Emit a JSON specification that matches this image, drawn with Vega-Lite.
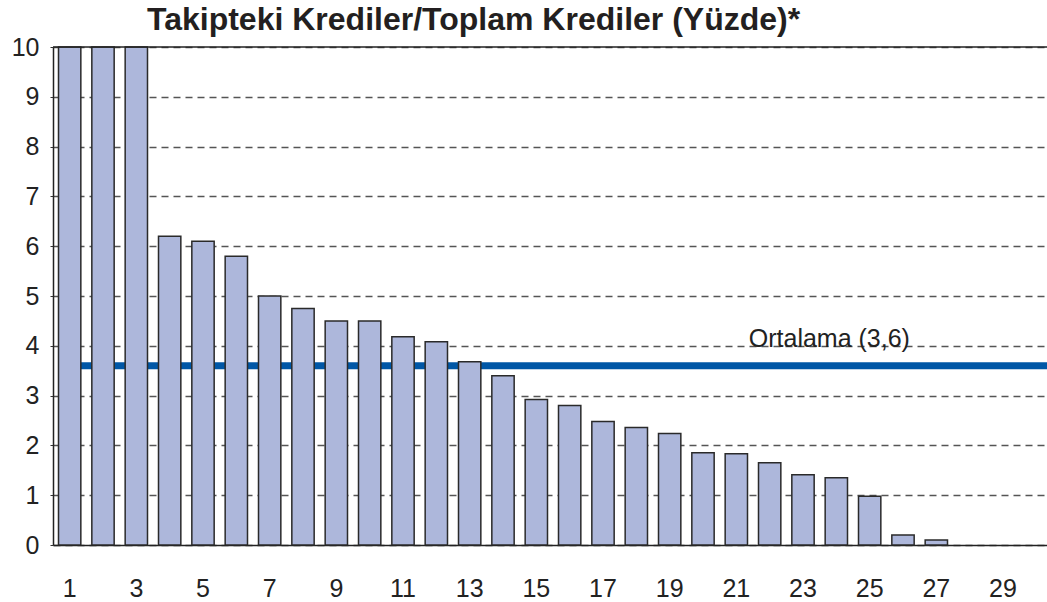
{
  "$schema": "https://vega.github.io/schema/vega-lite/v6.json",
  "width": 994,
  "height": 498,
  "autosize": {"type": "none"},
  "padding": {"left": 53, "top": 47, "right": 0, "bottom": 57},
  "background": "white",
  "config": {"view": {"stroke": null}, "font": "Liberation Sans"},
  "title": {
    "text": "Takipteki Krediler/Toplam Krediler (Yüzde)*",
    "font": "Liberation Sans",
    "fontSize": 32,
    "fontWeight": "bold",
    "color": "#231f20",
    "anchor": "start",
    "frame": "group",
    "dx": 94,
    "offset": -27,
    "baseline": "alphabetic"
  },
  "datasets": {
    "bars": [
      {"no": "1", "value": 10},
      {"no": "2", "value": 10},
      {"no": "3", "value": 10},
      {"no": "4", "value": 6.2},
      {"no": "5", "value": 6.1},
      {"no": "6", "value": 5.8},
      {"no": "7", "value": 5.0},
      {"no": "8", "value": 4.75},
      {"no": "9", "value": 4.5},
      {"no": "10", "value": 4.5},
      {"no": "11", "value": 4.18},
      {"no": "12", "value": 4.08},
      {"no": "13", "value": 3.68},
      {"no": "14", "value": 3.4},
      {"no": "15", "value": 2.92},
      {"no": "16", "value": 2.8},
      {"no": "17", "value": 2.48},
      {"no": "18", "value": 2.36},
      {"no": "19", "value": 2.24},
      {"no": "20", "value": 1.85},
      {"no": "21", "value": 1.83},
      {"no": "22", "value": 1.65},
      {"no": "23", "value": 1.41},
      {"no": "24", "value": 1.35},
      {"no": "25", "value": 0.98},
      {"no": "26", "value": 0.2},
      {"no": "27", "value": 0.1}
    ],
    "avg": [
      {"start": "1", "avg": 3.6, "label": "Ortalama (3,6)", "pos": "24"}
    ]
  },
  "layer": [
    {
      "data": {"name": "avg"},
      "mark": {"type": "rule", "stroke": "#0057a6", "strokeWidth": 7},
      "encoding": {
        "x": {
          "field": "start",
          "type": "ordinal",
          "scale": {
            "domain": ["1","2","3","4","5","6","7","8","9","10","11","12","13","14","15","16","17","18","19","20","21","22","23","24","25","26","27","28","29","30"],
            "range": [0, 1000],
            "paddingInner": 0.33,
            "paddingOuter": 0.165
          },
          "axis": {
            "title": null,
            "values": ["1","3","5","7","9","11","13","15","17","19","21","23","25","27","29"],
            "labelAngle": 0,
            "ticks": false,
            "labelPadding": 31,
            "labelFontSize": 25,
            "labelFont": "Liberation Sans",
            "labelColor": "#222",
            "labelBaseline": "top",
            "domainColor": "#222",
            "domainWidth": 1.5,
            "grid": false
          }
        },
        "x2": {"value": "width"},
        "y": {
          "field": "avg",
          "type": "quantitative",
          "scale": {"domain": [0, 10], "nice": false},
          "axis": {
            "title": null,
            "values": [0,1,2,3,4,5,6,7,8,9,10],
            "grid": true,
            "gridColor": "#555",
            "gridDash": [7, 5],
            "gridWidth": 1.4,
            "tickSize": 3,
            "tickColor": "#333",
            "labelPadding": 11,
            "labelFontSize": 25,
            "labelFont": "Liberation Sans",
            "labelColor": "#222",
            "labelFlush": false,
            "labelOverlap": false,
            "domainColor": "#222",
            "domainWidth": 1.5
          }
        }
      }
    },
    {
      "data": {"name": "bars"},
      "mark": {"type": "bar", "fill": "#adb7db", "stroke": "#2a2a2a", "strokeWidth": 1.5},
      "encoding": {
        "x": {"field": "no", "type": "ordinal"},
        "y": {"field": "value", "type": "quantitative"}
      }
    },
    {
      "data": {"values": [{}]},
      "mark": {"type": "rule", "stroke": "#222", "strokeWidth": 1.5},
      "encoding": {"y": {"datum": 10}}
    },
    {
      "data": {"name": "avg"},
      "mark": {"type": "text", "fontSize": 25, "font": "Liberation Sans", "color": "#222", "align": "center", "baseline": "alphabetic", "dx": -7, "dy": -19},
      "encoding": {
        "x": {"field": "pos", "type": "ordinal"},
        "y": {"field": "avg", "type": "quantitative"},
        "text": {"field": "label"}
      }
    }
  ]
}
